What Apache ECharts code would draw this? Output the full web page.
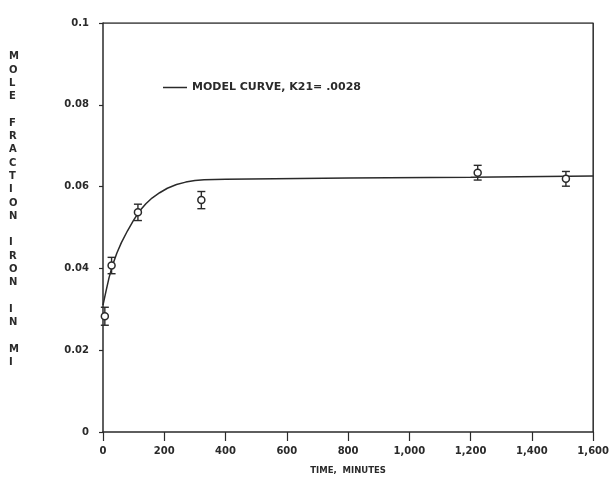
<!DOCTYPE html>
<html>
<head>
<meta charset="utf-8">
<script src="https://cdn.jsdelivr.net/npm/echarts@6/dist/echarts.min.js"></script>
<style>
  html, body { margin: 0; padding: 0; background: #fff; }
  #chart { width: 612px; height: 489px; }
</style>
</head>
<body>
<div id="chart"></div>
<script>
// model curve
const curveTime = [0, 10, 20, 30, 45, 60, 80, 100, 120, 140, 160, 185, 210, 240, 270, 300, 330, 400, 800, 1200, 1600];
const curveValue = [0.031, 0.0345, 0.0378, 0.0405, 0.0437, 0.0463, 0.0492, 0.0518, 0.0541, 0.0558, 0.0572,
  0.0585, 0.0596, 0.0605, 0.0611, 0.0615, 0.0617, 0.0618, 0.0621, 0.0623, 0.0626];

// measured points with error bars
const obsTime = [6, 28, 114, 321, 1223, 1511];
const obsValue = [0.0283, 0.0407, 0.0537, 0.0567, 0.0634, 0.0619];
const obsErr = [0.0022, 0.002, 0.002, 0.0021, 0.0018, 0.0018];

const yTicks = [0, 0.02, 0.04, 0.06, 0.08, 0.1];

const yTitle = "MOLE FRACTION IRON IN MI";
const legendName = "MODEL CURVE, K21= .0028";

const INK = "#2a2a2a";
const FONT = "DejaVu Sans";

const chart = echarts.init(document.getElementById("chart"));

const curveData = curveTime.map((t, i) => [t, curveValue[i]]);
const obsData = obsTime.map((t, i) => [t, obsValue[i]]);
const errData = obsTime.map((t, i) => [t, obsValue[i] - obsErr[i], obsValue[i] + obsErr[i]]);

chart.setOption({
  backgroundColor: "#fff",
  animation: false,
  textStyle: { fontFamily: FONT, color: INK },
  grid: { left: 103, right: 17, top: 23, bottom: 57 },
  legend: {
    data: [{ name: legendName, icon: "rect" }],
    left: 158,
    top: 77,
    itemWidth: 24,
    itemHeight: 1.5,
    itemGap: 7,
    textStyle: { fontFamily: FONT, fontWeight: "bold", fontSize: 11, color: INK },
  },
  graphic: [
    {
      type: "text",
      left: 9,
      top: 50,
      style: {
        text: yTitle.split("").join("\n"),
        font: "bold 10px " + FONT,
        lineHeight: 13.3,
        fill: INK,
        align: "center",
      },
    },
  ],
  xAxis: {
    type: "value",
    min: 0,
    max: 1600,
    interval: 200,
    name: "TIME,  MINUTES",
    nameLocation: "middle",
    nameGap: 34,
    nameTextStyle: { fontFamily: FONT, fontWeight: "bold", fontSize: 8.5, color: INK },
    axisLine: { lineStyle: { color: INK, width: 1.5 } },
    axisTick: { show: true, length: 9, lineStyle: { color: INK, width: 1.2 } },
    axisLabel: {
      margin: 14,
      hideOverlap: false,
      fontFamily: FONT,
      fontWeight: "bold",
      fontSize: 10,
      color: INK,
    },
    splitLine: { show: false },
  },
  yAxis: {
    type: "value",
    min: 0,
    max: 0.1,
    interval: 0.02,
    axisLine: { show: true, lineStyle: { color: INK, width: 1.5 } },
    axisTick: { show: true, length: 4, lineStyle: { color: INK, width: 1.2 } },
    axisLabel: {
      margin: 14,
      fontFamily: FONT,
      fontWeight: "bold",
      fontSize: 10,
      color: INK,
      customValues: yTicks,
      formatter: (v) => (v === 0 ? "0" : v === 0.1 ? "0.1" : v.toFixed(2)),
    },
    splitLine: { show: false },
  },
  series: [
    {
      name: legendName,
      type: "line",
      data: curveData,
      smooth: false,
      symbol: "none",
      lineStyle: { color: INK, width: 1.5 },
      itemStyle: { color: INK },
      z: 3,
    },
    {
      name: "err",
      type: "custom",
      data: errData,
      encode: { x: 0, y: [1, 2] },
      z: 4,
      renderItem: (params, api) => {
        const lo = api.coord([api.value(0), api.value(1)]);
        const hi = api.coord([api.value(0), api.value(2)]);
        const w = 4;
        const s = { stroke: INK, lineWidth: 1.4 };
        return {
          type: "group",
          children: [
            { type: "line", shape: { x1: lo[0], y1: lo[1], x2: hi[0], y2: hi[1] }, style: s },
            { type: "line", shape: { x1: lo[0] - w, y1: lo[1], x2: lo[0] + w, y2: lo[1] }, style: s },
            { type: "line", shape: { x1: hi[0] - w, y1: hi[1], x2: hi[0] + w, y2: hi[1] }, style: s },
          ],
        };
      },
    },
    {
      name: "obs",
      type: "scatter",
      data: obsData,
      symbol: "circle",
      symbolSize: 7,
      itemStyle: { color: "#ffffff", borderColor: INK, borderWidth: 1.5, opacity: 1 },
      z: 6,
    },
    // frame on top and right, like the plotted box
    {
      name: "frame",
      type: "line",
      data: [[0, 0.1], [1600, 0.1], [1600, 0]],
      symbol: "none",
      silent: true,
      lineStyle: { color: INK, width: 1.5 },
      z: 2,
    },
  ],
});
</script>
</body>
</html>
